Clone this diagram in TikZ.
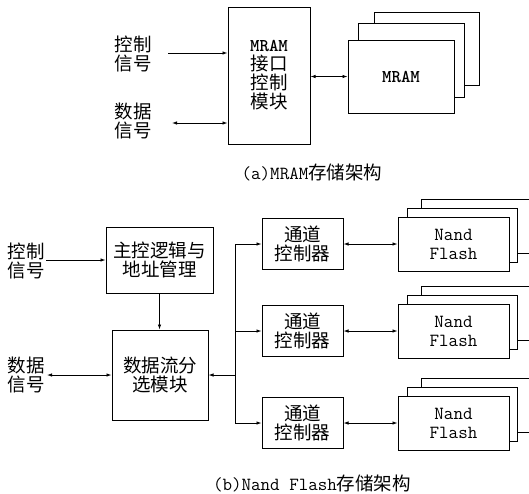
\documentclass[tikz,border=0pt]{standalone}
\usepackage{fontspec}
\usetikzlibrary{arrows.meta}
\newfontfamily\cjk{Noto Sans CJK SC}
\tikzset{
  box/.style={draw, line width=1pt, fill=white, inner sep=0pt, align=center,
    font=\cjk\fontsize{18.5}{19}\selectfont},
  layer/.style={draw, line width=1pt, fill=white},
  conn/.style={line width=0.8pt, -{Latex[length=5pt,width=3.5pt]}},
  biconn/.style={line width=0.8pt, {Latex[length=5pt,width=3.5pt]}-{Latex[length=5pt,width=3.5pt]}},
  cjktext/.style={font=\cjk\fontsize{18.5}{19}\selectfont, align=center, inner sep=0pt},
  caption/.style={font=\cjk\fontsize{18.5}{19}\selectfont, inner sep=0pt},
  monofont/.style={font=\ttfamily\fontsize{18.5}{19}\selectfont},
}
\begin{document}
\begin{tikzpicture}[x=1pt,y=-1pt]
\clip (0,0) rectangle (529,493);
\fill[white] (0,0) rectangle (529,493);

% ---------- (a) MRAM ----------
\node[cjktext] (ctrlA) at (133,54) {控制\\信号};
\node[cjktext] (dataA) at (133,121) {数据\\信号};
\node[box, minimum width=82pt, minimum height=137pt] (iface) at (269,75.5)
  {{\ttfamily\bfseries\fontsize{18}{19}\selectfont MRAM}\\接口\\控制\\模块};
\draw[layer] (374,12) rectangle (479,85);
\draw[layer] (358,23) rectangle (464,97);
\node[box, font=\ttfamily\bfseries\fontsize{18}{19}\selectfont, minimum width=106pt, minimum height=73pt] (mram) at (401,76.5)
  {MRAM};
\coordinate (ca) at (168,53);
\coordinate (da) at (172,123);
\draw[conn] (ca) -- (ca -| iface.west);
\draw[biconn] (da) -- (da -| iface.west);
\draw[biconn] (iface.east |- mram.west) -- (mram.west);
\node[caption] (capA) at (312,172) {{\ttfamily\fontsize{18.5}{19}\selectfont (a)MRAM}存储架构};

% ---------- (b) Nand Flash ----------
\node[cjktext] (ctrlB) at (26,261) {控制\\信号};
\node[cjktext] (dataB) at (26,375) {数据\\信号};
\node[box, minimum width=107pt, minimum height=66pt] (main) at (159.5,260) {主控逻辑与\\地址管理};
\node[box, minimum width=96pt, minimum height=90pt] (data) at (160,375) {数据流分\\选模块};
\coordinate (cb) at (46,260);
\coordinate (db) at (47,375);
\draw[conn] (cb) -- (main.west);
\draw[biconn] (db) -- (data.west);
\draw[conn] (main.south) -- (main.south |- data.north);

\foreach \i/\yy in {1/244, 2/331, 3/423} {
  \draw[layer] (421,\yy-45) rectangle (531,\yy+9);
  \draw[layer] (407.5,\yy-35.5) rectangle (517.5,\yy+18.5);
  \node[box, monofont, minimum width=111pt, minimum height=54pt] (nand\i) at (453.5,\yy)
    {Nand\\Flash};
  \node[box, minimum width=81pt, minimum height=51pt] (ch\i) at (302.5,\yy) {通道\\控制器};
  \draw[biconn] (ch\i.east) -- (nand\i.west);
}
\coordinate (bt) at (235,244);
\coordinate (bb) at (235,423);
\coordinate (bm) at (235,375);
\draw[line width=0.8pt] (bt) -- (bb);
\draw[conn] (bt) -- (ch1.west);
\draw[conn] (bt |- ch2.west) -- (ch2.west);
\draw[conn] (bb) -- (ch3.west);
\draw[conn] (bm) -- (data.east);
\node[caption] (capB) at (312,483) {{\ttfamily\fontsize{18.5}{19}\selectfont (b)Nand Flash}存储架构};
\end{tikzpicture}
\end{document}
